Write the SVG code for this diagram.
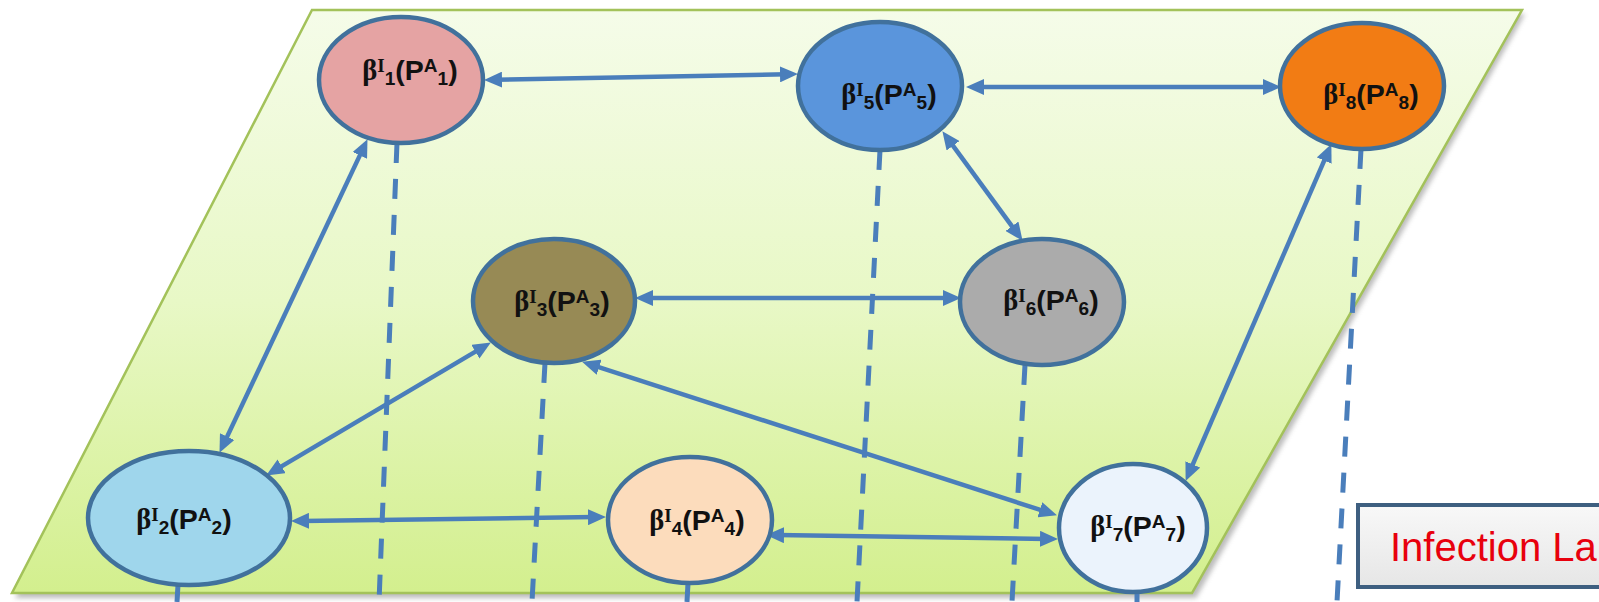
<svg xmlns="http://www.w3.org/2000/svg" width="1599" height="602" viewBox="0 0 1599 602">
<defs>
<linearGradient id="plane" x1="0" y1="0" x2="0" y2="1">
<stop offset="0" stop-color="#f5fce9"/>
<stop offset="0.5" stop-color="#e8f8c6"/>
<stop offset="1" stop-color="#d3ef8e"/>
</linearGradient>
<linearGradient id="boxg" x1="0" y1="0" x2="0" y2="1">
<stop offset="0" stop-color="#f8f8f8"/>
<stop offset="1" stop-color="#e6e6e6"/>
</linearGradient>
<filter id="shadow" x="-5%" y="-5%" width="110%" height="115%">
<feGaussianBlur stdDeviation="2.5"/>
</filter>
<marker id="ah" viewBox="0 0 18 16" markerWidth="18" markerHeight="16" refX="7" refY="8" orient="auto-start-reverse" markerUnits="userSpaceOnUse">
<path d="M0,0 L18,8 L0,16 z" fill="#4a7ebb"/>
</marker>
<style>
.node ellipse{stroke:#41719c;stroke-width:4.5}
.lbl{font-family:"Liberation Sans",Arial,sans-serif;font-weight:bold;font-size:28.5px;fill:#111;text-anchor:middle}
.lbl .g{font-family:"Liberation Serif","Times New Roman",serif}
.lbl .s{font-size:19px}
.lbl .si{font-size:19px;font-family:"Liberation Serif","Times New Roman",serif}
.con line{stroke:#4a7ebb;stroke-width:4.5;fill:none;marker-start:url(#ah);marker-end:url(#ah)}
.dash line{stroke:#4a7ebb;stroke-width:5;stroke-dasharray:20 16;fill:none}
</style>
</defs>

<g id="plane-layer">
<polygon points="315,14 1525,14 1196,598 15,598" fill="#8f8f8f" opacity="0.6" filter="url(#shadow)"/>
<polygon points="312,10 1522,10 1192,593 12,593" fill="url(#plane)" stroke="#a3c25a" stroke-width="2.5"/>
</g>

<g id="dashed-lines" class="dash">
<line x1="397" y1="143" x2="379" y2="602"/>
<line x1="880" y1="150" x2="857" y2="602"/>
<line x1="1361" y1="149" x2="1337" y2="602"/>
<line x1="545" y1="363" x2="532" y2="602"/>
<line x1="1025" y1="365" x2="1012" y2="602"/>
<line x1="178" y1="585" x2="177" y2="602"/>
<line x1="688" y1="583" x2="687" y2="602"/>
<line x1="1137" y1="591" x2="1137" y2="602"/>
</g>

<g id="connectors" class="con">
<line x1="495" y1="79.8" x2="787" y2="74.2"/>
<line x1="977" y1="87" x2="1270" y2="87"/>
<line x1="948.9" y1="140.1" x2="1016.1" y2="231.9"/>
<line x1="362.8" y1="149.1" x2="224.2" y2="442.9"/>
<line x1="1327" y1="154.2" x2="1190" y2="470.8"/>
<line x1="646" y1="298" x2="950" y2="298"/>
<line x1="481.4" y1="348.1" x2="275.6" y2="469.9"/>
<line x1="592.5" y1="365.1" x2="1046.5" y2="511.9"/>
<line x1="302" y1="520.9" x2="595" y2="517.1"/>
<line x1="777" y1="535.1" x2="1047" y2="538.9"/>
</g>

<g id="node1" class="node">
<ellipse cx="401" cy="80" rx="82" ry="63" fill="#e5a3a3"/>
<text class="lbl" x="410" y="80"><tspan class="g">β</tspan><tspan class="si" dy="-8">I</tspan><tspan class="s" dy="13">1</tspan><tspan dy="-5">(P</tspan><tspan class="s" dy="-8">A</tspan><tspan class="s" dy="13">1</tspan><tspan dy="-5">)</tspan></text>
</g>
<g id="node5" class="node">
<ellipse cx="880" cy="86" rx="82" ry="64" fill="#5a95dc"/>
<text class="lbl" x="889" y="104"><tspan class="g">β</tspan><tspan class="si" dy="-8">I</tspan><tspan class="s" dy="13">5</tspan><tspan dy="-5">(P</tspan><tspan class="s" dy="-8">A</tspan><tspan class="s" dy="13">5</tspan><tspan dy="-5">)</tspan></text>
</g>
<g id="node8" class="node">
<ellipse cx="1362" cy="86" rx="82" ry="63" fill="#f27c14"/>
<text class="lbl" x="1371" y="104"><tspan class="g">β</tspan><tspan class="si" dy="-8">I</tspan><tspan class="s" dy="13">8</tspan><tspan dy="-5">(P</tspan><tspan class="s" dy="-8">A</tspan><tspan class="s" dy="13">8</tspan><tspan dy="-5">)</tspan></text>
</g>
<g id="node3" class="node">
<ellipse cx="554" cy="301" rx="81" ry="62" fill="#978a55"/>
<text class="lbl" x="562" y="311"><tspan class="g">β</tspan><tspan class="si" dy="-8">I</tspan><tspan class="s" dy="13">3</tspan><tspan dy="-5">(P</tspan><tspan class="s" dy="-8">A</tspan><tspan class="s" dy="13">3</tspan><tspan dy="-5">)</tspan></text>
</g>
<g id="node6" class="node">
<ellipse cx="1042" cy="302" rx="82" ry="63" fill="#ababab"/>
<text class="lbl" x="1051" y="310"><tspan class="g">β</tspan><tspan class="si" dy="-8">I</tspan><tspan class="s" dy="13">6</tspan><tspan dy="-5">(P</tspan><tspan class="s" dy="-8">A</tspan><tspan class="s" dy="13">6</tspan><tspan dy="-5">)</tspan></text>
</g>
<g id="node2" class="node">
<ellipse cx="189" cy="518" rx="101" ry="67" fill="#9fd6ec"/>
<text class="lbl" x="184" y="529"><tspan class="g">β</tspan><tspan class="si" dy="-8">I</tspan><tspan class="s" dy="13">2</tspan><tspan dy="-5">(P</tspan><tspan class="s" dy="-8">A</tspan><tspan class="s" dy="13">2</tspan><tspan dy="-5">)</tspan></text>
</g>
<g id="node4" class="node">
<ellipse cx="690" cy="520" rx="82" ry="63" fill="#fcdcbc"/>
<text class="lbl" x="697" y="530"><tspan class="g">β</tspan><tspan class="si" dy="-8">I</tspan><tspan class="s" dy="13">4</tspan><tspan dy="-5">(P</tspan><tspan class="s" dy="-8">A</tspan><tspan class="s" dy="13">4</tspan><tspan dy="-5">)</tspan></text>
</g>
<g id="node7" class="node">
<ellipse cx="1133" cy="528" rx="74" ry="64" fill="#ebf3fc"/>
<text class="lbl" x="1138" y="536"><tspan class="g">β</tspan><tspan class="si" dy="-8">I</tspan><tspan class="s" dy="13">7</tspan><tspan dy="-5">(P</tspan><tspan class="s" dy="-8">A</tspan><tspan class="s" dy="13">7</tspan><tspan dy="-5">)</tspan></text>
</g>

<g id="layer-label">
<rect x="1358" y="505" width="260" height="82" fill="url(#boxg)" stroke="#3e5f80" stroke-width="4"/>
<text x="1390" y="561" font-family="'Liberation Sans',Arial,sans-serif" font-size="40" fill="#e8000d">Infection La</text>
</g>
</svg>
